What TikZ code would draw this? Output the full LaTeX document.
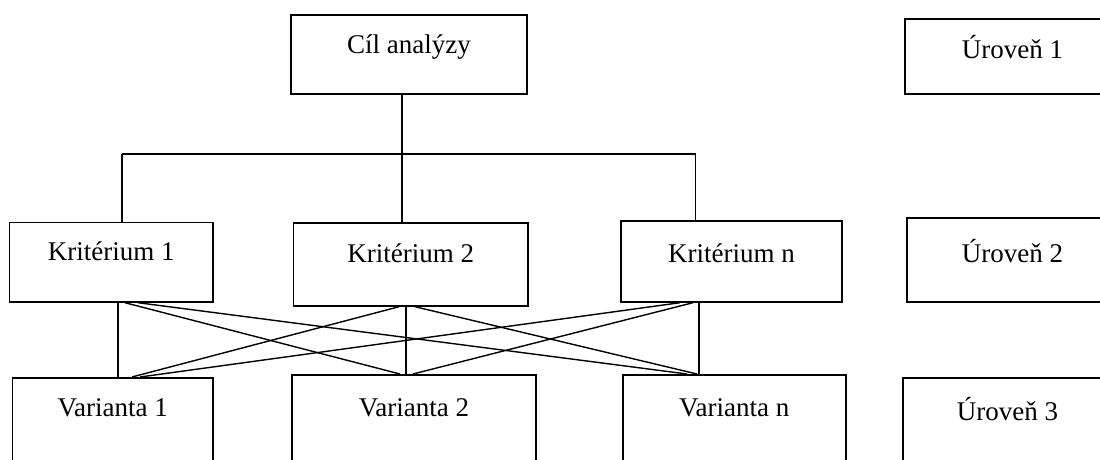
\documentclass[tikz,border=0pt]{standalone}
\usepackage{fontspec}
\setmainfont{Liberation Serif}
\begin{document}
\begin{tikzpicture}[x=1pt,y=-1pt,
  box/.style={draw=black, line width=1.7pt, inner sep=0pt, anchor=north,
    font=\fontsize{27}{32}\selectfont, align=center},
  conn/.style={draw=black, line width=1.4pt}]
\useasboundingbox (0,0) rectangle (1100,459);
\clip (0,0) rectangle (1100,459);
% level 1
\node[box, minimum width=236pt, text height=39pt, text depth=40pt] (cil) at (409,14) {Cíl analýzy};
\node[box, minimum width=215pt, text height=40pt, text depth=35pt] (u1) at (1012.5,18) {Úroveň 1};
% level 2
\node[box, minimum width=203.7pt, text height=38.3pt, text depth=41pt] (k1) at (111.2,221.7) {Kritérium 1};
\node[box, minimum width=234.7pt, text height=39.7pt, text depth=43.3pt] (k2) at (410.7,222) {Kritérium 2};
\node[box, minimum width=221pt, text height=42pt, text depth=39pt] (kn) at (731.5,220) {Kritérium n};
\node[box, minimum width=211.6pt, text height=44.7pt, text depth=39.3pt] (u2) at (1012.5,217) {Úroveň 2};
% level 3
\node[box, minimum width=200.7pt, text height=39pt, text depth=54pt] (v1) at (112.7,377) {Varianta 1};
\node[box, minimum width=244.3pt, text height=42pt, text depth=54pt] (v2) at (413.9,374) {Varianta 2};
\node[box, minimum width=223pt, text height=42pt, text depth=54pt] (vn) at (734.2,374) {Varianta n};
\node[box, minimum width=209.6pt, text height=43pt, text depth=50pt] (u3) at (1007.5,377) {Úroveň 3};
% tree from goal to criteria
\coordinate (b1) at (122,154);
\coordinate (b2) at (402,154);
\coordinate (bn) at (695.7,154);
\draw[conn] (b2 |- cil.south) -- (b2);
\draw[conn] (b1) -- (bn);
\draw[conn] (b1) -- (b1 |- k1.north);
\draw[conn] (b2) -- (b2 |- k2.north);
\draw[conn] (bn) -- (bn |- kn.north);
% criteria to variants
\draw[conn] ([xshift=6.8pt]k1.south) -- ([xshift=5.3pt]v1.north);
\draw[conn] ([xshift=-4.7pt]k2.south) -- ([xshift=-7.9pt]v2.north);
\draw[conn] ([xshift=-32.5pt]kn.south) -- ([xshift=-35.2pt]vn.north);
\draw[conn] ([xshift=13.8pt]k1.south) -- ([xshift=-13.9pt]v2.north);
\draw[conn] ([xshift=26.8pt]k1.south) -- ([xshift=-47.2pt]vn.north);
\draw[conn] ([xshift=-11.7pt]k2.south) -- ([xshift=19.3pt]v1.north);
\draw[conn] ([xshift=4.3pt]k2.south) -- ([xshift=-37.2pt]vn.north);
\draw[conn] ([xshift=-51.5pt]kn.south) -- ([xshift=27.3pt]v1.north);
\draw[conn] ([xshift=-38.5pt]kn.south) -- ([xshift=-0.9pt]v2.north);
\end{tikzpicture}
\end{document}
